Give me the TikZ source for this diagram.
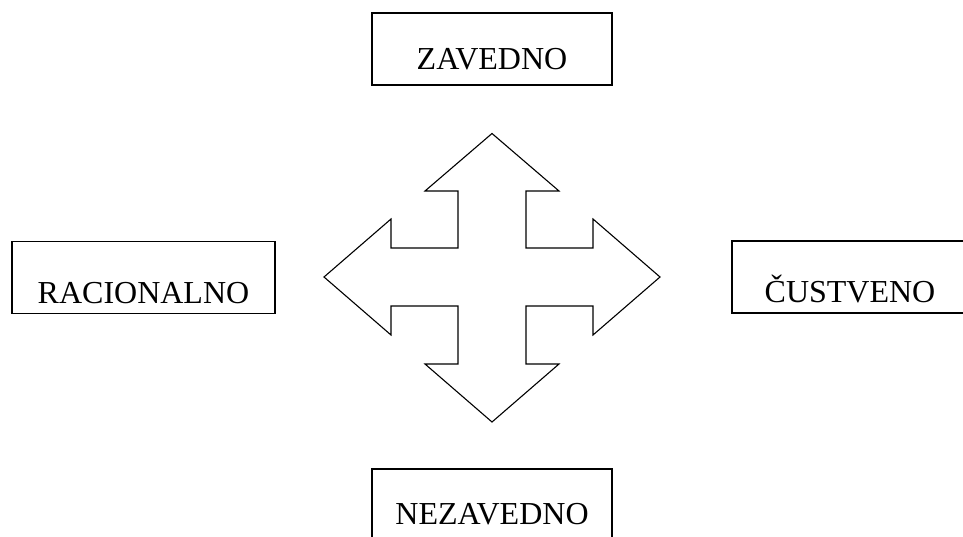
\documentclass[tikz,border=0pt]{standalone}
\usepackage{fontspec}
\setmainfont{Liberation Serif}
\usetikzlibrary{positioning}

\tikzset{
  okvir/.style={draw, line width=1.4pt, inner sep=0pt, minimum height=72pt,
    text height=58pt, text depth=14pt, font=\fontsize{32}{38}\selectfont},
  puscica/.style={draw, line width=1.1pt, line join=miter}
}

\begin{document}
\begin{tikzpicture}[x=1pt,y=-1pt]
    \useasboundingbox (0,0) rectangle (963,537);
    \coordinate (S) at (492,277);

    % four boxes round the cross
    \node[okvir, minimum width=240pt, text height=57pt, text depth=15pt] (zav) at (492,49) {ZAVEDNO};
    \node[okvir, minimum width=263pt, text height=61pt, text depth=10pt] (rac) at (143.5,277.5) {RACIONALNO};
    \node[okvir, minimum width=236pt, text height=61pt, text depth=11pt] (cus) at (850,277) {ČUSTVENO};
    \node[okvir, minimum width=240pt, text height=55pt, text depth=17pt] (nez) at (492,505) {NEZAVEDNO};

    % cross with four arrow heads
    \draw[puscica, shift={(S)}]
      (0,-143.5) -- (67,-86) -- (34,-86) -- (34,-29) -- (101,-29) -- (101,-58)
      -- (168,0) -- (101,58) -- (101,29) -- (34,29) -- (34,87) -- (67,87)
      -- (0,145) -- (-67,87) -- (-34,87) -- (-34,29) -- (-101,29) -- (-101,58)
      -- (-168,0) -- (-101,-58) -- (-101,-29) -- (-34,-29) -- (-34,-86) -- (-67,-86)
      -- cycle;
\end{tikzpicture}
\end{document}
